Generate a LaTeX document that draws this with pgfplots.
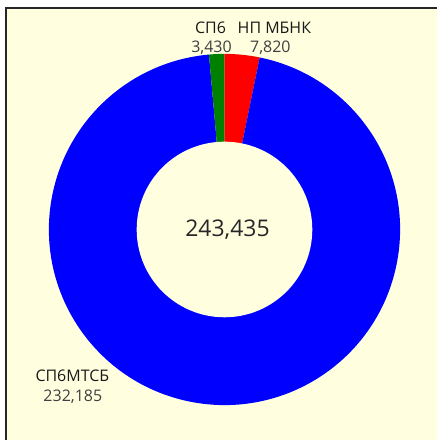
\documentclass[border=0pt]{standalone}
\usepackage{pgfplots}
\pgfplotsset{compat=1.18}
\usepackage{pgfplotstable}
\usepackage{fontspec}
\setmainfont{Open Sans}

\definecolor{bgyellow}{RGB}{255,255,224}
\definecolor{lbl}{RGB}{25,25,25}
\definecolor{num}{RGB}{64,64,64}

% values in clockwise order from 12 o'clock
\pgfplotstableread[col sep=comma]{
name,value
НП МБНК,7820
СП6МТСБ,232185
СП6,3430
}\datatab

\pgfplotstablegetelem{0}{value}\of\datatab \edef\vA{\pgfplotsretval}
\pgfplotstablegetelem{1}{value}\of\datatab \edef\vB{\pgfplotsretval}
\pgfplotstablegetelem{2}{value}\of\datatab \edef\vC{\pgfplotsretval}
\edef\vT{\fpeval{\vA+\vB+\vC}}
\edef\aA{\fpeval{90-360*\vA/\vT}}
\edef\aB{\fpeval{\aA-360*\vB/\vT}}
\edef\aC{\fpeval{\aB-360*\vC/\vT}}

\newcommand\num[1]{\pgfmathprintnumber[assume math mode=true,fixed,precision=0,1000 sep={,}]{#1}}
\newcommand\seg[3]{\fill[#3] (axis cs:225,211) -- ++(#1:176pt) arc[start angle=#1,end angle=#2,radius=176pt] -- cycle;}

\begin{document}
\begin{tikzpicture}
\begin{axis}[
  width=438pt, height=441pt, scale only axis,
  xmin=0, xmax=438, ymin=0, ymax=441,
  hide axis, clip=false]
\fill[white] (axis cs:0,0) rectangle (axis cs:438,441);
\fill[bgyellow] (axis cs:6,0) rectangle (axis cs:438,433);
\draw[line width=2pt, black!85] (axis cs:6,0) -- (axis cs:6,433) -- (axis cs:438,433);
\seg{90}{\aA}{red}
\seg{\aA}{\aB}{blue}
\seg{\aB}{\aC}{green!50!black}
\fill[bgyellow] (axis cs:225,211) circle[radius=88pt];
\node[font=\fontsize{23}{26}\selectfont, text=black!85] at (axis cs:228,211) {\num{\vT}};
\node[font=\fontsize{16}{18}\selectfont, text=lbl] at (axis cs:211,413) {СП6};
\node[font=\fontsize{16}{18}\selectfont, text=num] at (axis cs:212,393) {\num{\vC}};
\node[font=\fontsize{16}{18}\selectfont, text=lbl] at (axis cs:275,413) {НП МБНК};
\node[font=\fontsize{16}{18}\selectfont, text=num] at (axis cs:271,393) {\num{\vA}};
\node[font=\fontsize{16}{18}\selectfont, text=lbl] at (axis cs:72.5,64) {СП6МТСБ};
\node[font=\fontsize{16}{18}\selectfont, text=num] at (axis cs:73,43.5) {\num{\vB}};
\end{axis}
\end{tikzpicture}
\end{document}
